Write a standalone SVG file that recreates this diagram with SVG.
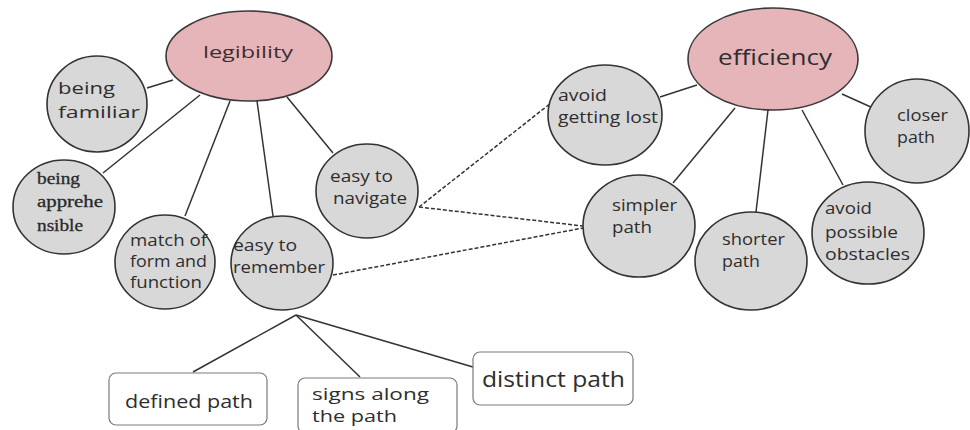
<svg xmlns="http://www.w3.org/2000/svg" width="970" height="430" viewBox="0 0 970 430">
<style>
.bg{fill:#ffffff}
.hub{fill:#e6b5ba;stroke:#3a3a3a;stroke-width:1.6}
.leaf{fill:#d8d8d8;stroke:#333333;stroke-width:1.6}
.box{fill:#ffffff;stroke:#7a7a7a;stroke-width:1.2}
.t{font-family:"Open Sans","DejaVu Sans",sans-serif;font-size:17px;fill:#2e2e2e}
.ts{font-family:"Liberation Serif","DejaVu Serif",serif;font-size:16px;fill:#2a2a2a;stroke:#2a2a2a;stroke-width:0.3}
.ln{stroke:#333333;stroke-width:1.5;fill:none}
.dl{stroke:#333333;stroke-width:1.5;fill:none;stroke-dasharray:4 2}
</style>
<rect class="bg" x="0" y="0" width="970" height="430"/>
<g id="connectors">
<line class="ln" x1="173" y1="80" x2="147" y2="88"/>
<line class="ln" x1="200" y1="95" x2="103" y2="173"/>
<line class="ln" x1="230" y1="101" x2="185" y2="216"/>
<line class="ln" x1="257" y1="101" x2="273" y2="216"/>
<line class="ln" x1="287" y1="97" x2="333" y2="153"/>
<line class="ln" x1="697" y1="85" x2="660" y2="97"/>
<line class="ln" x1="735" y1="108" x2="673" y2="183"/>
<line class="ln" x1="768" y1="110" x2="756" y2="212"/>
<line class="ln" x1="802" y1="110" x2="843" y2="185"/>
<line class="ln" x1="842" y1="94" x2="873" y2="108"/>
<line class="dl" x1="419" y1="207" x2="551" y2="103"/>
<line class="dl" x1="419" y1="207" x2="583" y2="226"/>
<line class="dl" x1="333" y1="275" x2="583" y2="228"/>
<line class="ln" x1="296" y1="315" x2="193" y2="372"/>
<line class="ln" x1="296" y1="315" x2="360" y2="377"/>
<line class="ln" x1="296" y1="315" x2="473" y2="367"/>
</g>
<g id="legibility">
<ellipse class="hub" cx="249" cy="56" rx="83" ry="45"/>
<text class="t" x="203" y="58" style="font-size:16px;fill:#3c2e2e" textLength="90" lengthAdjust="spacingAndGlyphs">legibility</text>
</g>
<g id="efficiency">
<ellipse class="hub" cx="773" cy="59" rx="85" ry="51"/>
<text class="t" x="718" y="65" style="font-size:21px" textLength="114" lengthAdjust="spacingAndGlyphs">efficiency</text>
</g>
<g id="being-familiar">
<ellipse class="leaf" cx="97" cy="104" rx="50" ry="48"/>
<text class="t" x="58" y="94" textLength="57" lengthAdjust="spacingAndGlyphs">being</text>
<text class="t" x="58" y="118" textLength="82" lengthAdjust="spacingAndGlyphs">familiar</text>
</g>
<g id="being-apprehensible">
<ellipse class="leaf" cx="64" cy="207" rx="51" ry="47"/>
<text class="ts" x="37" y="184" textLength="43" lengthAdjust="spacingAndGlyphs">being</text>
<text class="ts" x="37" y="207" textLength="66" lengthAdjust="spacingAndGlyphs">apprehe</text>
<text class="ts" x="37" y="231" textLength="46" lengthAdjust="spacingAndGlyphs">nsible</text>
</g>
<g id="match-of-form-and-function">
<ellipse class="leaf" cx="165" cy="262" rx="50" ry="47"/>
<text class="t" x="130" y="246" style="font-size:16px" textLength="77" lengthAdjust="spacingAndGlyphs">match of</text>
<text class="t" x="130" y="267" style="font-size:16px" textLength="77" lengthAdjust="spacingAndGlyphs">form and</text>
<text class="t" x="130" y="288" style="font-size:16px" textLength="72" lengthAdjust="spacingAndGlyphs">function</text>
</g>
<g id="easy-to-remember">
<ellipse class="leaf" cx="282" cy="263" rx="51" ry="47"/>
<text class="t" x="233" y="251" style="font-size:16px" textLength="64" lengthAdjust="spacingAndGlyphs">easy to</text>
<text class="t" x="233" y="273" style="font-size:16px" textLength="92" lengthAdjust="spacingAndGlyphs">remember</text>
</g>
<g id="easy-to-navigate">
<ellipse class="leaf" cx="367" cy="191" rx="51" ry="47"/>
<text class="t" x="330" y="182" style="font-size:16px" textLength="63" lengthAdjust="spacingAndGlyphs">easy to</text>
<text class="t" x="333" y="204" style="font-size:16px" textLength="74" lengthAdjust="spacingAndGlyphs">navigate</text>
</g>
<g id="avoid-getting-lost">
<ellipse class="leaf" cx="605" cy="115" rx="57" ry="50"/>
<text class="t" x="558" y="101" style="font-size:16px" textLength="49" lengthAdjust="spacingAndGlyphs">avoid</text>
<text class="t" x="558" y="123" style="font-size:16px" textLength="100" lengthAdjust="spacingAndGlyphs">getting lost</text>
</g>
<g id="closer-path">
<ellipse class="leaf" cx="917" cy="131" rx="52" ry="52"/>
<text class="t" x="897" y="121" style="font-size:16px" textLength="51" lengthAdjust="spacingAndGlyphs">closer</text>
<text class="t" x="897" y="143" style="font-size:16px" textLength="38" lengthAdjust="spacingAndGlyphs">path</text>
</g>
<g id="simpler-path">
<ellipse class="leaf" cx="639" cy="226" rx="56" ry="51"/>
<text class="t" x="612" y="211" style="font-size:16px" textLength="65" lengthAdjust="spacingAndGlyphs">simpler</text>
<text class="t" x="612" y="233" style="font-size:16px" textLength="40" lengthAdjust="spacingAndGlyphs">path</text>
</g>
<g id="shorter-path">
<ellipse class="leaf" cx="751" cy="261" rx="56" ry="49"/>
<text class="t" x="722" y="245" style="font-size:16px" textLength="63" lengthAdjust="spacingAndGlyphs">shorter</text>
<text class="t" x="722" y="267" style="font-size:16px" textLength="38" lengthAdjust="spacingAndGlyphs">path</text>
</g>
<g id="avoid-possible-obstacles">
<ellipse class="leaf" cx="868" cy="233" rx="56" ry="51"/>
<text class="t" x="825" y="214" style="font-size:16px" textLength="47" lengthAdjust="spacingAndGlyphs">avoid</text>
<text class="t" x="825" y="238" style="font-size:16px" textLength="73" lengthAdjust="spacingAndGlyphs">possible</text>
<text class="t" x="825" y="260" style="font-size:16px" textLength="85" lengthAdjust="spacingAndGlyphs">obstacles</text>
</g>
<g id="defined-path">
<rect class="box" x="109" y="373" width="158" height="52" rx="7"/>
<text class="t" x="125" y="408" style="font-size:18px" textLength="128" lengthAdjust="spacingAndGlyphs">defined path</text>
</g>
<g id="signs-along-the-path">
<rect class="box" x="298" y="378" width="159" height="55" rx="7"/>
<text class="t" x="312" y="400" style="font-size:17px" textLength="117" lengthAdjust="spacingAndGlyphs">signs along</text>
<text class="t" x="312" y="422" style="font-size:17px" textLength="85" lengthAdjust="spacingAndGlyphs">the path</text>
</g>
<g id="distinct-path">
<rect class="box" x="473" y="352" width="160" height="53" rx="7"/>
<text class="t" x="482" y="387" style="font-size:21px" textLength="143" lengthAdjust="spacingAndGlyphs">distinct path</text>
</g>
</svg>
